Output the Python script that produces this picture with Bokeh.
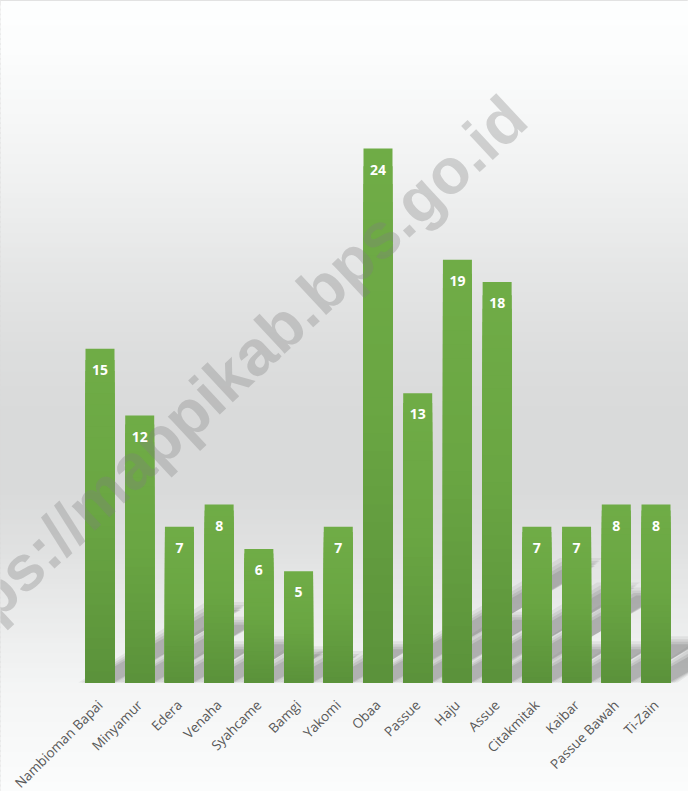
import math
import numpy as np
from bokeh.plotting import figure
from bokeh.models import Range1d, LinearAxis, FixedTicker
from bokeh.core.properties import value
from bokeh.embed import file_html
from bokeh.resources import INLINE

# ---- data ----
categories = ["Nambioman Bapai", "Minyamur", "Edera", "Venaha", "Syahcame", "Bamgi",
              "Yakomi", "Obaa", "Passue", "Haju", "Assue", "Citakmitak", "Kaibar",
              "Passue Bawah", "Ti-Zain"]
counts = [15, 12, 7, 8, 6, 5, 7, 24, 13, 19, 18, 7, 7, 8, 8]
watermark_text = "https://mappikab.bps.go.id"

# ---- layout (pixel geometry of the reference) ----
W, H = 688, 791
PAGE = 8
BAR0, STEP = 107.5, 39.714   # image x of first bar centre, spacing
BASE, UNIT = 690.0, 22.25    # image y of zero line, px per unit


def dx(px):
    return (px - BAR0) / STEP


def dy(py):
    return (BASE - py) / UNIT


p = figure(width=W, height=H, output_backend="svg", toolbar_location=None, tools="",
           x_range=Range1d(dx(PAGE), dx(PAGE + W)),
           y_range=Range1d(dy(PAGE + H), dy(PAGE)),
           x_axis_location=None, y_axis_location=None, min_border=0)
p.min_border_left = p.min_border_right = p.min_border_top = p.min_border_bottom = 0
p.grid.visible = False
p.background_fill_color = "white"
p.border_fill_color = "white"
p.outline_line_color = "#d9d9d9"
p.outline_line_width = 1

# ---- background gradient ----
stops_y = [8, 60, 120, 200, 280, 360, 430, 500, 560, 610, 660, 700, 760, 807]
stops_g = [255, 253, 248, 240, 230, 222, 218, 219, 226, 234, 241, 246, 250, 253]
n_strips = 160
edges = np.linspace(PAGE, PAGE + H, n_strips + 1)
mids = (edges[:-1] + edges[1:]) / 2
gvals = np.interp(mids, stops_y, stops_g)
cols = ["#%02x%02x%02x" % (int(g) - 1, int(g), int(g)) for g in gvals]
p.quad(left=dx(PAGE) - 1, right=dx(PAGE + W) + 1,
       top=[dy(e) for e in edges[:-1]], bottom=[dy(e + 3) for e in edges[1:]],
       fill_color=cols, line_color=None)

# ---- perspective shadows of bars ----
xs_idx = list(range(len(categories)))
half = 0.365
theta = math.radians(30)
for grow, alpha in [(7.0, 0.10), (4.0, 0.13), (1.5, 0.17), (-1.0, 0.22)]:
    pxs, pys = [], []
    for i, v in zip(xs_idx, counts):
        hv = 0.22 * v                       # vertical extent (data units)
        hpx = hv * UNIT / math.tan(theta)   # horizontal extent (px)
        off = hpx / STEP
        g = grow / STEP
        gy = grow / UNIT
        pxs.append([i - half - g, i + half + g, i + half + off + g, i - half + off - g])
        pys.append([0, 0, hv + gy, hv + gy])
    p.patches(pxs, pys, fill_color="#6e6e6e", fill_alpha=alpha, line_color=None)

# ---- bars with vertical gradient ----
N = 30
t_stops = [0.0, 0.5, 1.0]
rgb_stops = [(91, 146, 59), (106, 166, 67), (112, 173, 71)]
for k in range(N, 0, -1):
    t = (k - 0.5) / N
    r = int(np.interp(t, t_stops, [c[0] for c in rgb_stops]))
    g = int(np.interp(t, t_stops, [c[1] for c in rgb_stops]))
    b = int(np.interp(t, t_stops, [c[2] for c in rgb_stops]))
    p.vbar(x=xs_idx, width=0.73, bottom=0, top=[v * k / N for v in counts],
           fill_color="#%02x%02x%02x" % (r, g, b), line_color=None)

# ---- watermark ----
ang = math.radians(43)
u = (math.cos(ang), -math.sin(ang))
vv = (-math.sin(ang), -math.cos(ang))
fs = 64
dot = (402, 222)
base_pt = (dot[0] - 5 * vv[0], dot[1] - 5 * vv[1])
along = 10.196 * fs
start = (base_pt[0] - along * u[0], base_pt[1] - along * u[1])
p.text(x=[dx(start[0])], y=[dy(start[1])], text=[watermark_text], angle=ang,
       text_align="left", text_baseline="alphabetic",
       text_font=value("Liberation Sans"), text_font_style="bold",
       text_font_size=f"{fs}px", text_color="#7f7f7f", text_alpha=0.32)

# ---- value labels ----
p.text(x=xs_idx, y=counts, text=[str(c) for c in counts], y_offset=21,
       text_align="center", text_baseline="alphabetic",
       text_font=value("Open Sans"), text_font_style="bold",
       text_font_size="14px", text_color="white")

# ---- category axis ----
ax = LinearAxis(fixed_location=0,
                ticker=FixedTicker(ticks=xs_idx),
                major_label_overrides={i: c for i, c in zip(xs_idx, categories)})
ax.axis_line_color = None
ax.major_tick_line_color = None
ax.minor_tick_line_color = None
ax.major_label_orientation = math.pi / 4
ax.major_label_standoff = 14
ax.major_label_text_color = "#595959"
ax.major_label_text_font = "Open Sans"
ax.major_label_text_font_size = "13.5px"
p.add_layout(ax, "below")

open("out.html", "w").write(file_html(p, INLINE))
